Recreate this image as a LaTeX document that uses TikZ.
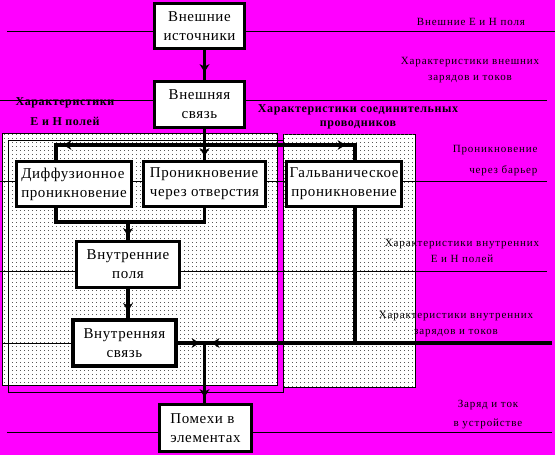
\documentclass[tikz,border=0pt]{standalone}
\usepackage{fontspec}
\setmainfont{Liberation Serif}
\newfontfamily\boxfont[LetterSpace=4]{Liberation Serif}
\newfontfamily\lblfont[LetterSpace=8]{Liberation Serif}
\usetikzlibrary{patterns,decorations.markings}
\definecolor{bgpink}{RGB}{255,0,255}
\pgfdeclarepatternformonly{stipple}{\pgfpointorigin}{\pgfpoint{4pt}{4pt}}{\pgfpoint{4pt}{4pt}}%
	{\pgfpathrectangle{\pgfpointorigin}{\pgfpoint{1.1pt}{1.1pt}}\pgfusepath{fill}}

\begin{document}
\begin{tikzpicture}[x=1pt, y=-1pt,
	box/.style={draw, line width=2.8pt, fill=white, align=center, inner sep=1pt, font=\boxfont\fontsize{15}{19}\selectfont},
	panel/.style={draw, line width=0.9pt, fill=white, postaction={pattern=stipple, pattern color=black!65}},
	conn/.style={line width=3.2pt, line cap=rect},
	level/.style={line width=0.9pt},
	arr/.style={postaction={decorate}, decoration={markings, mark=at position #1 with {\fill (-8pt,-5pt) -- (0pt,0pt) -- (-8pt,5pt) -- (-5.5pt,0pt) -- cycle;}}},
	lbl/.style={font=\lblfont\fontsize{11}{16}\selectfont, align=center},
	blbl/.style={font=\bfseries\addfontfeature{LetterSpace=5}\fontsize{12}{14}\selectfont, align=center}]
	\useasboundingbox (0,0) rectangle (555,455);
	\fill[bgpink] (0,0) rectangle (555,455);
	% dotted panels
	\draw[panel] (2,133) rectangle (277,385);
	\draw[panel] (283,134) rectangle (415,387);
	\draw[level] (8,140) rectangle (283,392);
	% level lines
	\foreach \a/\b/\y in {7/555/31, 0/547/100, 0/547/181, 0/547/271, 3/71/343, 7/552/432}
		\draw[level] (\a,\y) -- (\b,\y);
	\draw[conn] (355,343) -- (550,343);
	% blocks
	\node[box, minimum width=90pt, minimum height=45pt] (ext) at (199.5,26) {Внешние\\источники};
	\node[box, minimum width=90pt, minimum height=46pt] (extlink) at (199.5,104.5) {Внешняя\\связь};
	\node[box, minimum width=115pt, minimum height=45pt, align=left] (diff) at (74,184) {Диффузионное\\проникновение};
	\node[box, minimum width=122pt, minimum height=45pt, align=left] (hole) at (204.5,184) {Проникновение\\через отверстия};
	\node[box, minimum width=115pt, minimum height=45pt] (galv) at (344,184) {Гальваническое\\проникновение};
	\node[box, minimum width=103pt, minimum height=46pt] (infield) at (128,264.5) {Внутренние\\поля};
	\node[box, line width=3.8pt, minimum width=103pt, minimum height=46pt] (inlink) at (124.5,343) {Внутренняя\\связь};
	\node[box, minimum width=92pt, minimum height=47pt, align=left] (noise) at (205.5,428) {Помехи в\\элементах};
	% connectors
	\coordinate (split) at (204.5,145);
	\coordinate (merge) at (128,222);
	\coordinate (join) at (204.5,343);
	\draw[conn, arr=-8pt] (ext.south -| hole.north) -- (extlink.north -| hole.north);
	\draw[conn, arr=-4pt] (extlink.south -| hole.north) -- (hole.north);
	\draw[conn, arr=141pt] (split) -| ([xshift=-18pt]diff.north);
	\draw[conn, arr=141pt] (split) -| ([xshift=11pt]galv.north);
	\draw[conn] ([xshift=-18pt]diff.south) |- (merge) -| (hole.south);
	\draw[conn, arr=-4pt] (merge) -- (infield.north);
	\draw[conn, arr=-7pt] (infield.south) -- (infield.south |- inlink.north);
	\draw[conn, arr=-5pt] (inlink.east) -- (join);
	\draw[conn, arr=-7pt] ([xshift=11pt]galv.south) |- (join);
	\draw[conn, arr=-6pt] (join) -- (join |- noise.north);
	% level captions
	\node[lbl] (capext) at (471,22) {Внешние Е и Н поля};
	\node[lbl] (capextq) at (470,70) {Характеристики внешних\\зарядов и токов};
	\node[blbl] (capwire) at (358,117) {Характеристики соединительных\\проводников};
	\node[blbl] (capfield) at (65,112) {Характеристики\\[6pt]Е и Н полей};
	\node[lbl, align=right, anchor=east] (capbar) at (541,161) {Проникновение\\[5pt]через барьер};
	\node[lbl] (capinf) at (462,251) {Характеристики внутренних\\Е и Н полей};
	\node[lbl] (capinq) at (456,324) {Характеристики внутренних\\зарядов и токов};
	\node[lbl] (capdev) at (488,415) {Заряд и ток\\[3pt]в устройстве};
\end{tikzpicture}
\end{document}
